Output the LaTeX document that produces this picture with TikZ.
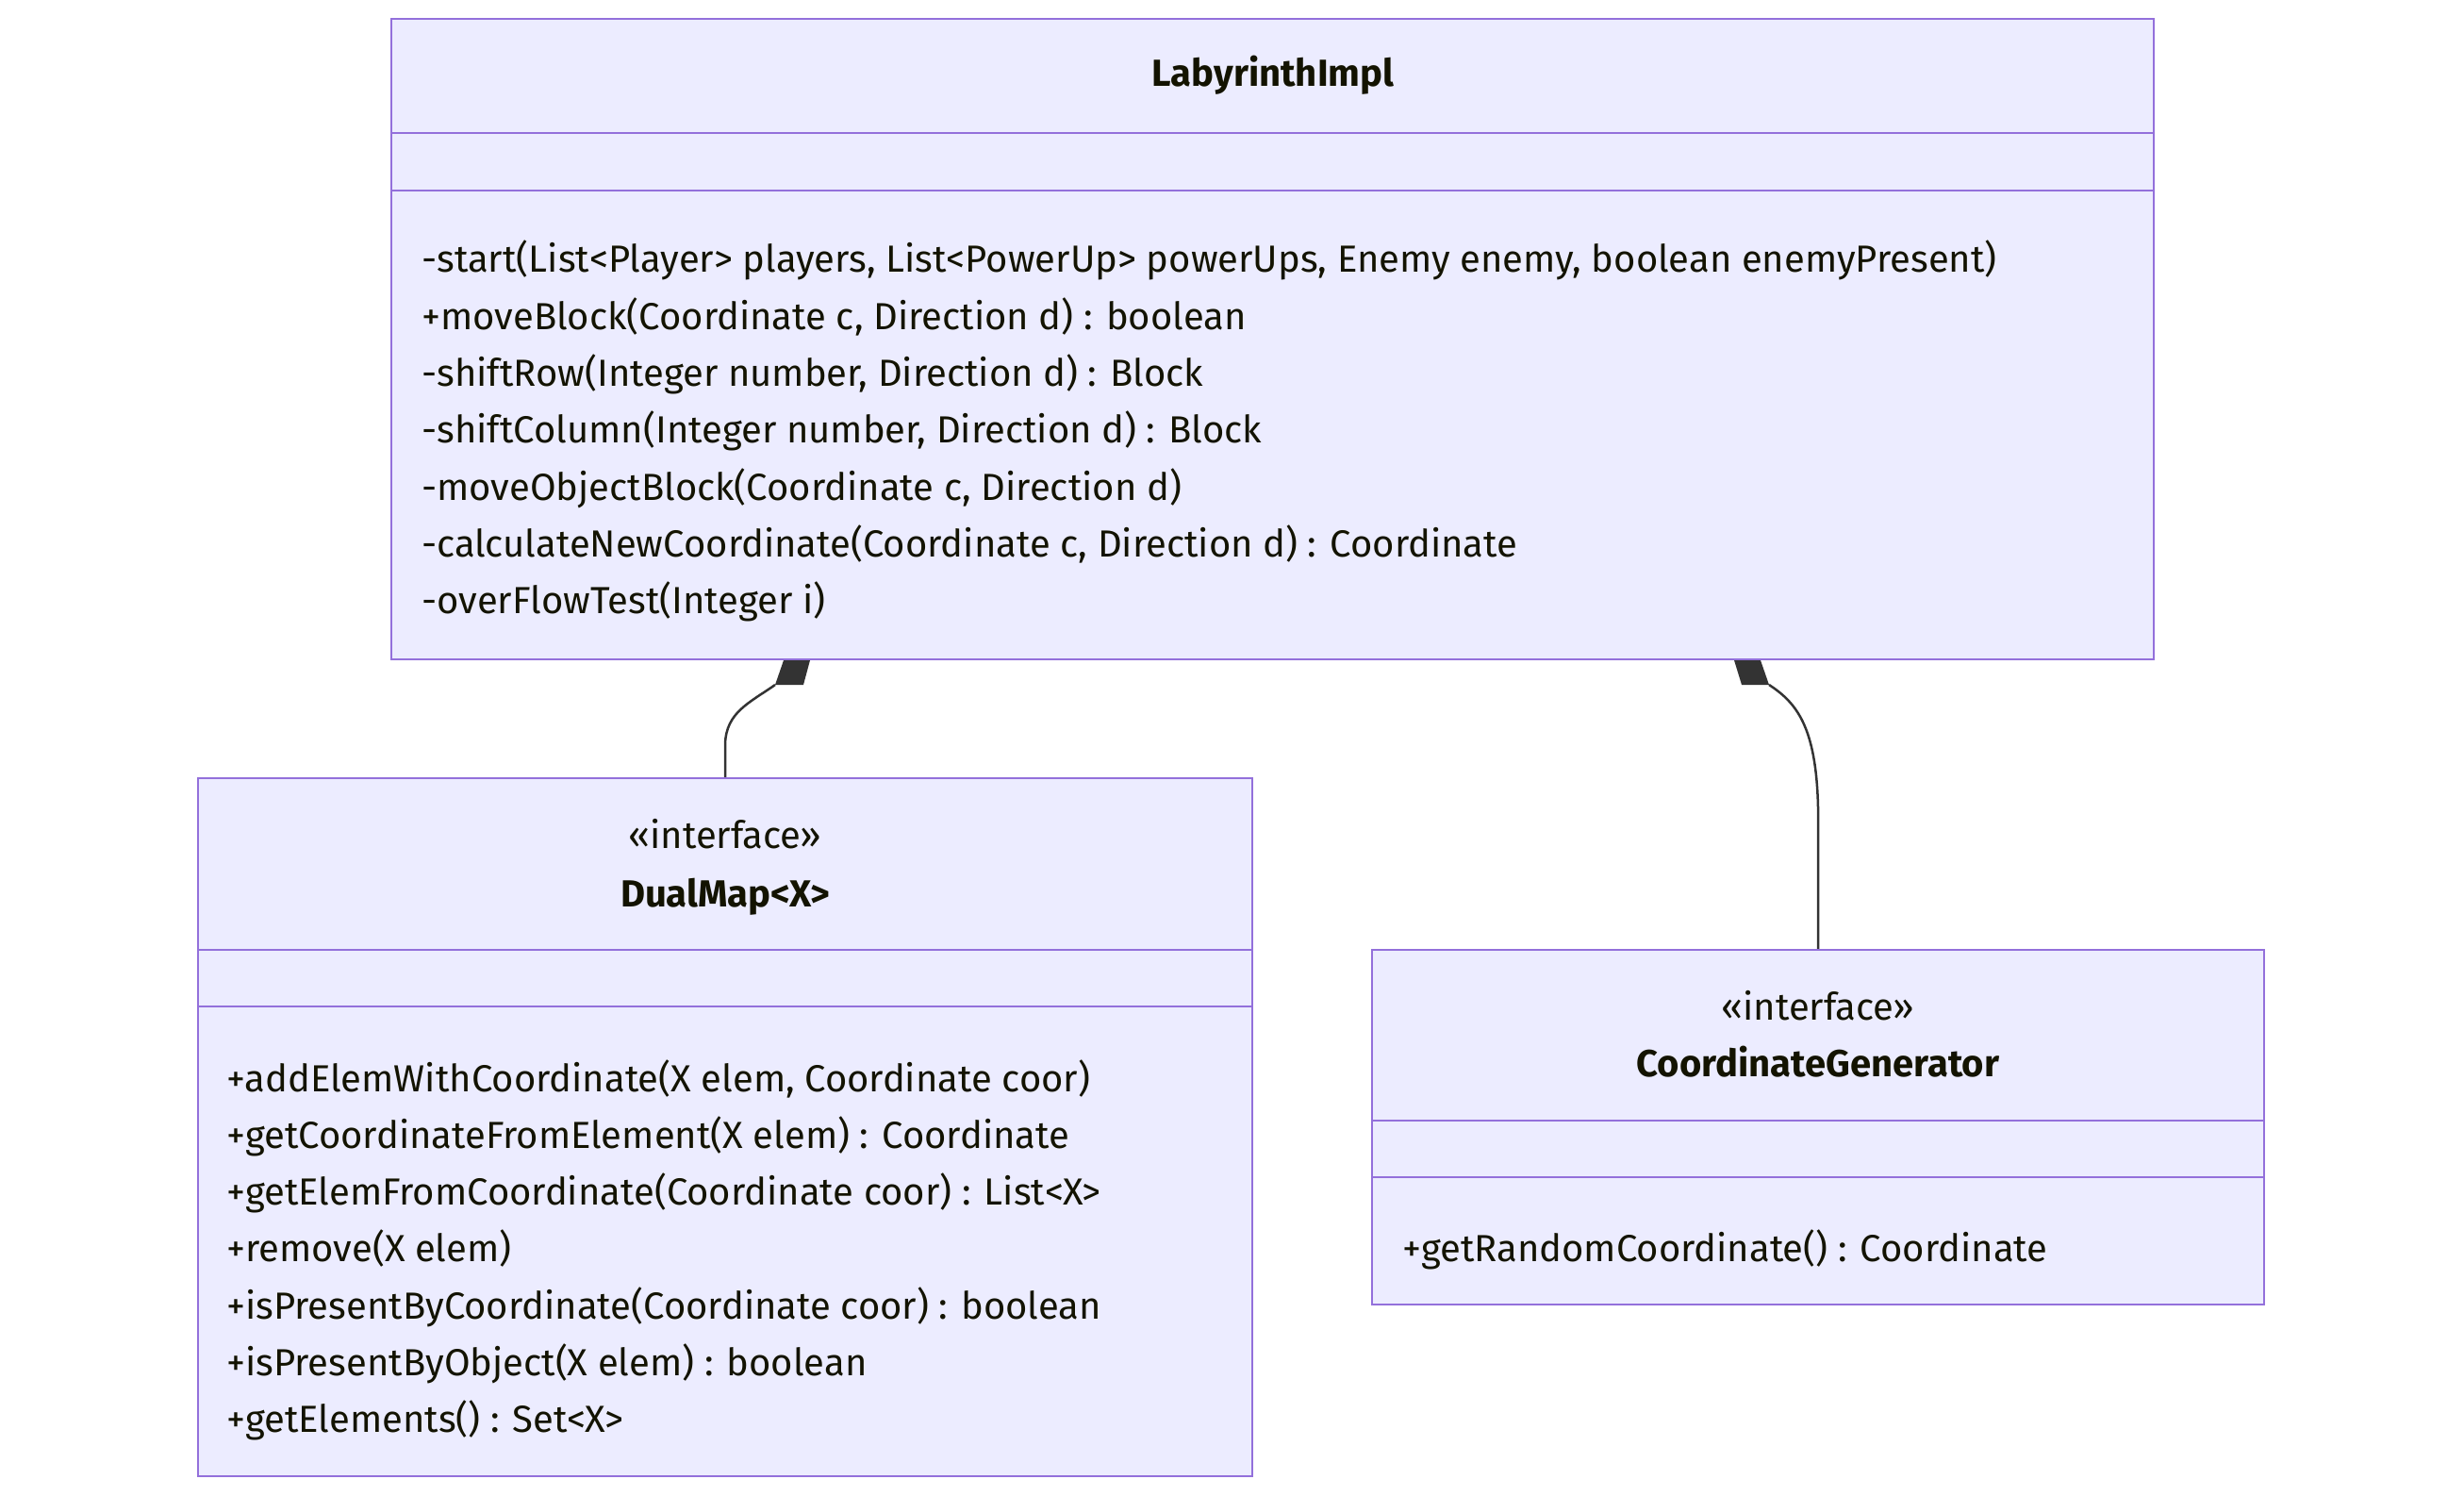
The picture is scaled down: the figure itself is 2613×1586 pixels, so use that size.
\documentclass[tikz,border=0pt]{standalone}
\usepackage{fontspec}
\setmainfont{Fira Sans}
\definecolor{boxfill}{HTML}{ECECFF}
\definecolor{boxline}{HTML}{9370DB}
\definecolor{txt}{HTML}{131300}
\definecolor{edge}{HTML}{333333}
\begin{document}
\begin{tikzpicture}[x=1pt,y=-1pt,
  umlbox/.style={draw=boxline, fill=boxfill, line width=2.5pt, rectangle, inner sep=0pt},
  divider/.style={draw=boxline, line width=2.5pt},
  mtxt/.style={anchor=base west, inner sep=0pt, text=txt, font=\fontsize{40}{48}\selectfont},
  ttxt/.style={anchor=base, inner sep=0pt, text=txt, font=\fontsize{40}{48}\selectfont\bfseries},
  stxt/.style={anchor=base, inner sep=0pt, text=txt, font=\fontsize{40}{48}\selectfont},
  rel/.style={draw=edge, line width=2.5pt},
  comp/.style={fill=edge, draw=none}]
\useasboundingbox (0,0) rectangle (2613,1586);
\fill[white] (0,0) rectangle (2613,1586);
% boxes
\node[umlbox, minimum width=1869pt, minimum height=679pt] (lab) at (1349.5,359.5) {};
\node[umlbox, minimum width=1118pt, minimum height=740pt] (dual) at (769,1195) {};
\node[umlbox, minimum width=946pt, minimum height=376pt] (gen) at (1928,1195) {};
% dividers
\draw[divider] (lab.west |- 0,141) -- (lab.east |- 0,141);
\draw[divider] (lab.west |- 0,202) -- (lab.east |- 0,202);
\draw[divider] (dual.west |- 0,1007) -- (dual.east |- 0,1007);
\draw[divider] (dual.west |- 0,1067) -- (dual.east |- 0,1067);
\draw[divider] (gen.west |- 0,1188) -- (gen.east |- 0,1188);
\draw[divider] (gen.west |- 0,1248) -- (gen.east |- 0,1248);
% LabyrinthImpl
\node[ttxt] (labt) at (1350,92) {LabyrinthImpl};
\node[mtxt] (lab1) at (447,289) {-start(List<Player> players, List<PowerUp> powerUps, Enemy enemy, boolean enemyPresent)};
\node[mtxt] (lab2) at (447,349.3) {+moveBlock(Coordinate c, Direction d) : boolean};
\node[mtxt] (lab3) at (447,409.6) {-shiftRow(Integer number, Direction d) : Block};
\node[mtxt] (lab4) at (447,469.9) {-shiftColumn(Integer number, Direction d) : Block};
\node[mtxt] (lab5) at (447,530.2) {-moveObjectBlock(Coordinate c, Direction d)};
\node[mtxt] (lab6) at (447,590.5) {-calculateNewCoordinate(Coordinate c, Direction d) : Coordinate};
\node[mtxt] (lab7) at (447,650.8) {-overFlowTest(Integer i)};
% DualMap
\node[stxt] (duals) at (769,899) {«interface»};
\node[ttxt] (dualt) at (769,961) {DualMap<X>};
\node[mtxt] (dual1) at (240,1157) {+addElemWithCoordinate(X elem, Coordinate coor)};
\node[mtxt] (dual2) at (240,1217.3) {+getCoordinateFromElement(X elem) : Coordinate};
\node[mtxt] (dual3) at (240,1277.6) {+getElemFromCoordinate(Coordinate coor) : List<X>};
\node[mtxt] (dual4) at (240,1337.9) {+remove(X elem)};
\node[mtxt] (dual5) at (240,1398.2) {+isPresentByCoordinate(Coordinate coor) : boolean};
\node[mtxt] (dual6) at (240,1458.5) {+isPresentByObject(X elem) : boolean};
\node[mtxt] (dual7) at (240,1518.8) {+getElements() : Set<X>};
% CoordinateGenerator
\node[stxt] (gens) at (1928,1081) {«interface»};
\node[ttxt] (gent) at (1928,1141) {CoordinateGenerator};
\node[mtxt] (gen1) at (1487,1337) {+getRandomCoordinate() : Coordinate};
% composition markers
\coordinate (d1) at (822,726);
\coordinate (d2) at (1876,726);
\fill[comp] (831,700) -- (859,700) -- (852,726) -- (d1) -- cycle;
\fill[comp] (1839,700) -- (1867,700) -- (d2) -- (1847,726) -- cycle;
% connectors
\draw[rel] (dual.north) -- ++(0,-35) .. controls (770,755) and (795,745) .. (d1);
\draw[rel] (gen.north) -- ++(0,-150) .. controls (1926,770) and (1905,745) .. (d2);
\end{tikzpicture}
\end{document}
